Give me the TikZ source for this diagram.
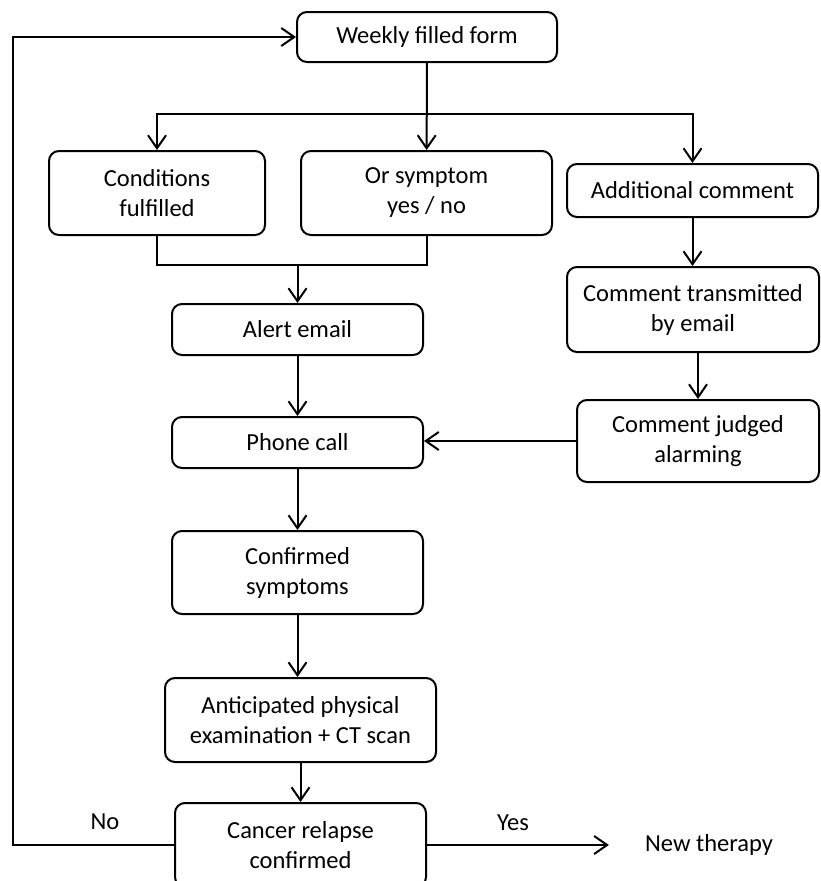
\documentclass[tikz,border=0pt]{standalone}
\usepackage{fontspec}
\setmainfont{Carlito}
\usetikzlibrary{arrows.meta}
\usetikzlibrary{positioning}
\colorlet{penColor}{black}
\tikzset{>={Straight Barb[length=13pt,width=18pt]}}
\tikzset{
  stepbox/.style={draw=penColor, line width=2pt, rounded corners=10pt,
    align=center, inner sep=0pt, text=penColor},
  flow/.style={->, penColor, line width=2pt},
  lbl/.style={text=penColor, inner sep=0pt}
}

\begin{document}
\begin{tikzpicture}[x=1pt,y=-1pt,font=\fontsize{24.5}{30}\selectfont]
\useasboundingbox (0,0) rectangle (820,881);
% boxes
\node [stepbox, minimum width=260pt, minimum height=50pt] (form) at (427,37) {Weekly filled form};
\node [stepbox, minimum width=216pt, minimum height=84pt] (cond) at (157,193) {Conditions\\fulfilled};
\node [stepbox, minimum width=251pt, minimum height=84pt] (sympt) at (426.5,193) {Or symptom\\yes / no};
\node [stepbox, minimum width=251pt, minimum height=53pt] (addc) at (692.5,190.5) {Additional comment};
\node [stepbox, minimum width=251pt, minimum height=51pt] (alert) at (297.5,329.5) {Alert email};
\node [stepbox, minimum width=251pt, minimum height=51pt] (phone) at (297.5,442.5) {Phone call};
\node [stepbox, minimum width=252pt, minimum height=85pt] (trans) at (693,309.5) {Comment transmitted\\by email};
\node [stepbox, minimum width=242pt, minimum height=82pt] (judged) at (698,441) {Comment judged\\alarming};
\node [stepbox, minimum width=251pt, minimum height=83pt] (confirmed) at (297.5,572.5) {Confirmed\\symptoms};
\node [stepbox, minimum width=271pt, minimum height=84pt] (anticip) at (300.5,720) {Anticipated physical\\examination + CT scan};
\node [stepbox, minimum width=251pt, minimum height=84pt] (cancer) at (300.5,845) {Cancer relapse\\confirmed};
\node [lbl] (newth) at (709,845) {New therapy};
\node [lbl] (nolbl) at (105,822) {No};
\node [lbl] (yeslbl) at (513,823) {Yes};
% helper points
\coordinate (split) at (427,114);
\coordinate (join) at (297.5,265);
\coordinate (loopx) at (13,0);
% connectors
\draw [flow] (form) -- (sympt);
\draw [flow] (split) -| (cond);
\draw [flow] (split) -| (addc);
\draw [penColor, line width=2pt] (cond.south) |- (join) -| (sympt.south);
\draw [flow] (join) -- (alert);
\draw [flow] (alert) -- (phone);
\draw [flow] (phone) -- (confirmed);
\draw [flow] (confirmed) -- (confirmed |- anticip.north);
\draw [flow] (anticip) -- (cancer);
\draw [flow] (addc) -- (addc |- trans.north);
\draw [flow] (judged.north |- trans.south) -- (judged);
\draw [flow] (judged.west) -- (judged.west -| phone.east);
\draw [flow] (cancer.west) -- (cancer.west -| loopx) |- (form.west);
\draw [flow] (cancer.east) -- ([xshift=-36pt]newth.west);
\end{tikzpicture}
\end{document}
